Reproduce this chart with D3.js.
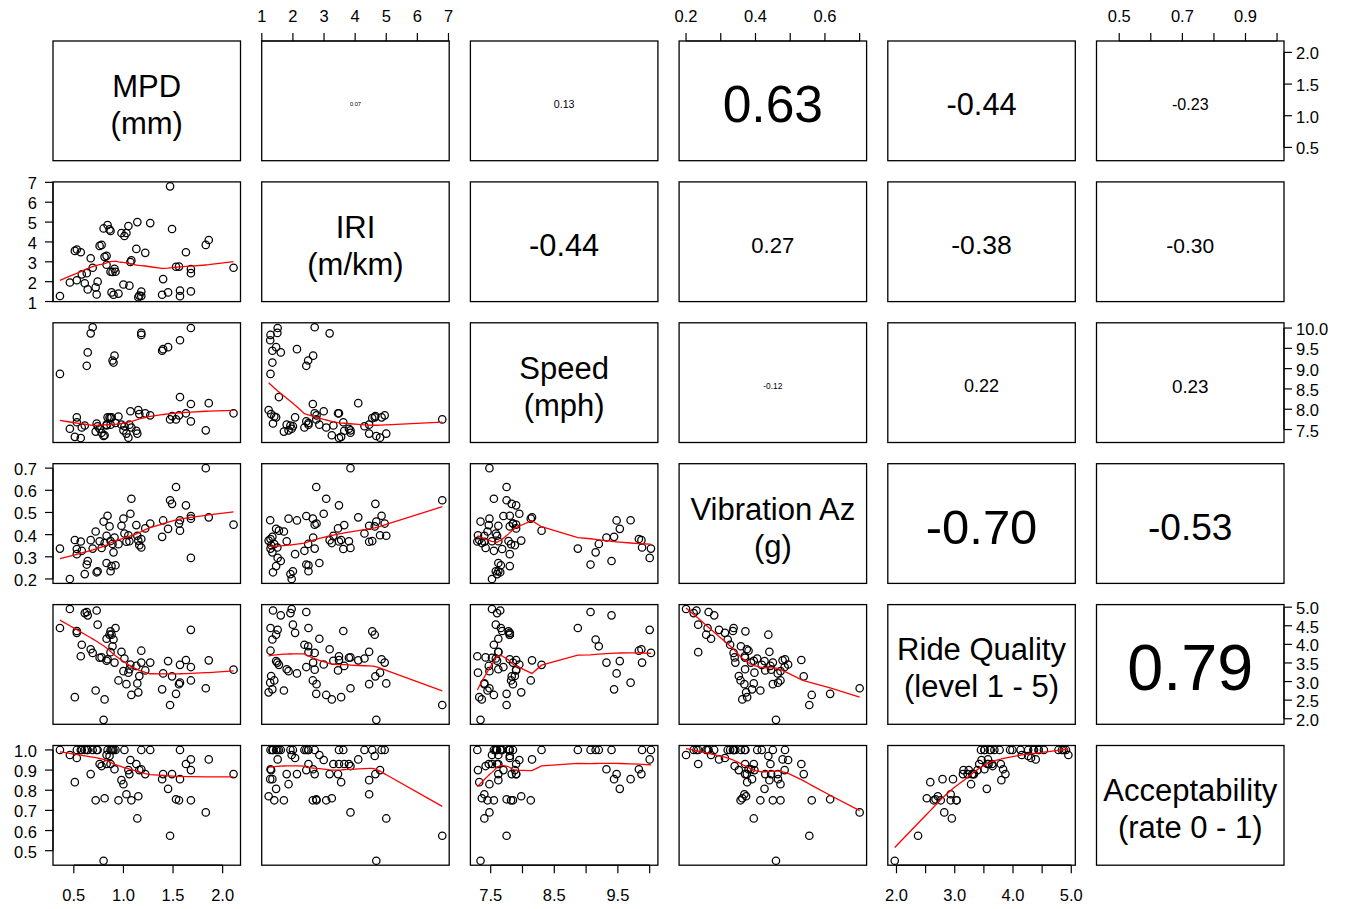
<!DOCTYPE html>
<html><head><meta charset="utf-8">
<script src="https://cdn.jsdelivr.net/npm/d3@7"></script>
<style>
body{margin:0;background:#fff}
text{font-family:"Liberation Sans",Arial,Helvetica,sans-serif;fill:#000}
</style>
</head><body>
<svg id="chart" width="1351" height="909"></svg>
<script>
// ---------- data (one entry per observation) ----------
const diagLine1 = ["MPD","IRI","Speed","Vibration Az","Ride Quality","Acceptability"];
const diagLine2 = ["(mm)","(m/km)","(mph)","(g)","(level 1 - 5)","(rate 0 - 1)"];

const mpd = [0.36,0.63,0.90,0.89,0.91,0.64,1.39,1.40,1.45,1.57,1.18,0.67,1.18,0.69,1.68,1.47,0.80,1.83,0.46,0.61,
  0.73,0.74,0.87,0.88,0.92,0.83,0.53,0.53,0.58,0.78,0.51,0.57,0.76,0.81,0.95,1.16,1.06,1.14,1.01,0.83,
  0.72,1.57,1.22,1.13,1.27,1.56,2.11,0.98,1.68,1.00,1.86,1.68,0.84,1.07,1.63,1.49,1.08,1.53,1.15,0.87,
  0.86,1.03,1.05];
const iri = [1.28,2.43,1.34,2.49,2.65,1.61,1.34,2.13,1.46,1.27,1.28,3.18,1.50,2.70,1.51,6.80,4.68,3.85,1.96,1.92,
  1.36,2.00,2.50,1.46,2.50,2.85,2.07,3.62,2.37,3.85,3.55,3.48,3.80,3.25,1.40,1.30,1.80,5.00,4.30,3.30,
  1.71,1.55,3.45,3.65,4.95,2.76,2.70,4.45,2.64,1.86,4.10,2.43,4.85,2.99,3.48,4.65,3.07,2.75,1.22,4.55,
  4.63,4.45,4.80];
const speed = [8.87,9.07,9.15,9.20,9.32,9.40,9.44,9.48,9.53,9.70,9.83,9.87,9.88,10.02,10.00,7.75,7.34,7.48,7.52,7.60,
  7.65,7.58,7.62,7.80,7.66,7.62,7.80,7.68,7.55,7.42,7.32,7.29,7.52,7.36,7.82,7.88,7.62,7.40,7.58,7.60,
  7.45,8.30,7.90,7.47,7.85,7.85,7.90,7.62,8.13,7.48,8.15,7.70,7.80,7.95,7.90,7.83,7.55,7.75,7.98,7.78,
  7.80,7.40,7.30];
const vib = [0.337,0.265,0.320,0.358,0.387,0.281,0.39,0.464,0.426,0.465,0.38,0.375,0.342,0.337,0.295,0.555,0.459,0.70,0.20,0.222,
  0.23,0.235,0.235,0.258,0.262,0.272,0.312,0.335,0.327,0.340,0.376,0.369,0.370,0.362,0.357,0.352,0.370,0.395,0.405,0.395,
  0.414,0.418,0.428,0.443,0.450,0.450,0.445,0.440,0.472,0.472,0.478,0.484,0.485,0.494,0.532,0.539,0.562,0.615,0.373,0.371,
  0.437,0.368,0.397];
const ride = [4.44,4.87,4.13,3.95,3.51,4.78,2.79,3.22,3.55,2.97,3.83,3.87,3.51,3.77,4.39,2.37,1.97,2.82,4.95,4.84,
  4.91,4.53,3.79,4.26,4.44,4.15,4.31,4.36,3.99,3.65,2.58,3.68,3.64,2.52,3.03,3.15,3.33,2.95,3.62,3.56,
  2.76,3.45,3.30,3.42,3.51,2.93,3.32,3.80,3.03,3.28,3.57,3.39,3.60,3.46,3.58,3.14,2.64,2.67,2.71,4.35,
  4.26,2.93,3.24];
const accept = [1.00,1.00,1.00,1.00,0.904,1.00,0.855,0.88,0.807,0.855,0.904,0.88,1.00,1.00,0.953,0.574,0.45,0.69,0.975,1.00,
  1.00,1.00,0.93,1.00,1.00,0.975,0.96,1.00,1.00,0.92,0.84,1.00,0.93,0.76,0.75,0.90,0.88,0.66,1.00,0.93,
  0.75,1.00,0.88,0.93,1.00,0.75,0.88,0.85,0.75,0.83,0.953,0.90,1.00,0.95,0.93,0.88,0.75,0.755,0.77,1.00,
  0.97,0.78,0.90];

// correlation labels shown in the upper panels (row i, columns i+1..6)
const corLabels = [
  ["0.07","0.13","0.63","-0.44","-0.23"],
  ["-0.44","0.27","-0.38","-0.30"],
  ["-0.12","0.22","0.23"],
  ["-0.70","-0.53"],
  ["0.79"]
];

// tick values and which of them carry labels (outer axes)
const mpdTicks = [0.5,1.0,1.5,2.0];
const iriTicks = [1,2,3,4,5,6,7];
const speedTicks = [7.5,8.0,8.5,9.0,9.5,10.0];
const speedTicksLabelledBottom = [7.5,8.5,9.5];
const vibTicks = [0.2,0.3,0.4,0.5,0.6,0.7];
const vibTicksLabelledTop = [0.2,0.4,0.6];
const rideTicks = [2.0,2.5,3.0,3.5,4.0,4.5,5.0];
const rideTicksLabelledBottom = [2.0,3.0,4.0,5.0];
const acceptTicks = [0.5,0.6,0.7,0.8,0.9,1.0];
const acceptTicksLabelledTop = [0.5,0.7,0.9];

// ---------- layout ----------
const columns = [mpd, iri, speed, vib, ride, accept];
const nv = columns.length;
const left0 = 53, top0 = 41, pw = 187.5, ph = 119.7, gap = 21.2;
const px = j => left0 + j * (pw + gap);
const py = i => top0 + i * (ph + gap);

const svg = d3.select("#chart");
svg.append("rect").attr("width",1351).attr("height",909).attr("fill","#fff");

function paddedDomain(a) {
  const [lo, hi] = d3.extent(a); const r = hi - lo;
  return [lo - 0.04 * r, hi + 0.04 * r];
}
const xScales = columns.map((c, j) => d3.scaleLinear().domain(paddedDomain(c)).range([px(j), px(j) + pw]));
const yScales = columns.map((c, i) => d3.scaleLinear().domain(paddedDomain(c)).range([py(i) + ph, py(i)]));

// ---------- R style lowess ----------
function lowess(xIn, yIn, f = 2/3, nsteps = 3) {
  const n = xIn.length;
  const order = d3.range(n).sort((a, b) => xIn[a] - xIn[b]);
  const x = order.map(i => xIn[i]), y = order.map(i => yIn[i]);
  const ys = new Float64Array(n), rw = new Float64Array(n).fill(1), res = new Float64Array(n), w = new Float64Array(n);
  const range = x[n-1] - x[0];
  const delta = 0.01 * range;
  const ns = Math.max(2, Math.min(n, Math.floor(f * n + 1e-7)));
  function lowest(xs, nleft, nright, userw) {
    const h = Math.max(xs - x[nleft], x[nright] - xs);
    const h9 = 0.999 * h, h1 = 0.001 * h;
    let a = 0, j = nleft;
    while (j < n) {
      w[j] = 0;
      const r = Math.abs(x[j] - xs);
      if (r <= h9) {
        w[j] = r <= h1 ? 1 : Math.pow(1 - Math.pow(r / h, 3), 3);
        if (userw) w[j] *= rw[j];
        a += w[j];
      } else if (x[j] > xs) break;
      j++;
    }
    const nrt = j - 1;
    if (a <= 0) return null;
    for (j = nleft; j <= nrt; j++) w[j] /= a;
    if (h > 0) {
      a = 0;
      for (j = nleft; j <= nrt; j++) a += w[j] * x[j];
      let b = xs - a, c = 0;
      for (j = nleft; j <= nrt; j++) c += w[j] * (x[j] - a) * (x[j] - a);
      if (Math.sqrt(c) > 0.001 * range) {
        b /= c;
        for (j = nleft; j <= nrt; j++) w[j] *= (b * (x[j] - a) + 1);
      }
    }
    let out = 0;
    for (j = nleft; j <= nrt; j++) out += w[j] * y[j];
    return out;
  }
  for (let iter = 1; iter <= nsteps + 1; iter++) {
    let nleft = 0, nright = ns - 1, last = -1, i = 0;
    for (;;) {
      if (nright < n - 1) {
        const d1 = x[i] - x[nleft], d2 = x[nright + 1] - x[i];
        if (d1 > d2) { nleft++; nright++; continue; }
      }
      const v = lowest(x[i], nleft, nright, iter > 1);
      ys[i] = v === null ? y[i] : v;
      if (last < i - 1) {
        const denom = x[i] - x[last];
        for (let j = last + 1; j < i; j++) {
          const alpha = (x[j] - x[last]) / denom;
          ys[j] = alpha * ys[i] + (1 - alpha) * ys[last];
        }
      }
      last = i;
      const cut = x[last] + delta;
      for (i = last + 1; i < n; i++) {
        if (x[i] > cut) break;
        if (x[i] === x[last]) { ys[i] = ys[last]; last = i; }
      }
      i = Math.max(last + 1, i - 1);
      if (last >= n - 1) break;
    }
    let sc = 0;
    for (let k = 0; k < n; k++) { res[k] = y[k] - ys[k]; sc += Math.abs(res[k]); }
    sc /= n;
    if (iter > nsteps) break;
    const ar = Array.from(res, Math.abs).sort((a, b) => a - b);
    const m1 = Math.floor(n / 2);
    const cmad = n % 2 === 0 ? 3 * (ar[m1] + ar[n - m1 - 1]) : 6 * ar[m1];
    if (cmad < 1e-7 * sc) break;
    const c9 = 0.999 * cmad, c1 = 0.001 * cmad;
    for (let k = 0; k < n; k++) {
      const r = Math.abs(res[k]);
      rw[k] = r <= c1 ? 1 : (r <= c9 ? Math.pow(1 - Math.pow(r / cmad, 2), 2) : 0);
    }
  }
  return x.map((xv, k) => [xv, ys[k]]);
}

// ---------- panels ----------
for (let i = 0; i < nv; i++) {
  for (let j = 0; j < nv; j++) {
    const g = svg.append("g");
    const x0 = px(j), y0 = py(i);
    if (i > j) {
      const xs = xScales[j], ysc = yScales[i];
      const xd = columns[j], yd = columns[i];
      g.selectAll("circle").data(d3.range(xd.length)).join("circle")
        .attr("cx", k => xs(xd[k])).attr("cy", k => ysc(yd[k])).attr("r", 3.7)
        .attr("fill", "none").attr("stroke", "#000").attr("stroke-width", 1.25);
      const sm = lowess(xd, yd);
      g.append("path").attr("d", d3.line().x(d => xs(d[0])).y(d => ysc(d[1]))(sm))
        .attr("fill", "none").attr("stroke", "#ff0000").attr("stroke-width", 1.3);
    } else if (i < j) {
      const lab = corLabels[i][j - i - 1];
      const r = Math.abs(parseFloat(lab));
      const t = g.append("text").attr("x", x0 + pw / 2).attr("y", y0 + ph / 2 + 3.5)
        .attr("text-anchor", "middle").attr("dominant-baseline", "central")
        .style("font-size", "100px").text(lab);
      const w100 = t.node().getComputedTextLength();
      const target = 0.85 * pw * r;
      t.style("font-size", (100 * target / w100) + "px");
    } else {
      const cx = x0 + pw / 2, cy = y0 + ph / 2;
      g.append("text").attr("x", cx).attr("y", cy - 4).attr("text-anchor", "middle")
        .style("font-size", "31px").text(diagLine1[i]);
      g.append("text").attr("x", cx).attr("y", cy + 33).attr("text-anchor", "middle")
        .style("font-size", "31px").text(diagLine2[i]);
    }
    g.append("rect").attr("x", x0).attr("y", y0).attr("width", pw).attr("height", ph)
      .attr("fill", "none").attr("stroke", "#000").attr("stroke-width", 1.3);
  }
}

// ---------- outer axes (R pairs alternating layout) ----------
const tickLen = 8, axisFont = "16.5px";
function fmt(v, ticks) {
  const dec = ticks.some(t => Math.round(t) !== t) ? 1 : 0;
  return v.toFixed(dec);
}
function axisH(scale, ticks, labelled, yLine, dir) {
  const g = svg.append("g");
  const pos = ticks.map(scale);
  g.append("line").attr("x1", d3.min(pos)).attr("x2", d3.max(pos)).attr("y1", yLine).attr("y2", yLine)
    .attr("stroke", "#000").attr("stroke-width", 1.2);
  g.selectAll("line.tk").data(ticks).join("line").attr("class", "tk")
    .attr("x1", d => scale(d)).attr("x2", d => scale(d)).attr("y1", yLine).attr("y2", yLine + dir * tickLen)
    .attr("stroke", "#000").attr("stroke-width", 1.2);
  g.selectAll("text").data(labelled).join("text")
    .attr("x", d => scale(d)).attr("y", dir < 0 ? yLine - 19 : yLine + 36)
    .attr("text-anchor", "middle").style("font-size", axisFont).text(d => fmt(d, ticks));
}
function axisV(scale, ticks, labelled, xLine, dir) {
  const g = svg.append("g");
  const pos = ticks.map(scale);
  g.append("line").attr("y1", d3.min(pos)).attr("y2", d3.max(pos)).attr("x1", xLine).attr("x2", xLine)
    .attr("stroke", "#000").attr("stroke-width", 1.2);
  g.selectAll("line.tk").data(ticks).join("line").attr("class", "tk")
    .attr("y1", d => scale(d)).attr("y2", d => scale(d)).attr("x1", xLine).attr("x2", xLine + dir * tickLen)
    .attr("stroke", "#000").attr("stroke-width", 1.2);
  g.selectAll("text").data(labelled).join("text")
    .attr("y", d => scale(d) + 1).attr("x", dir < 0 ? xLine - 16 : xLine + 12)
    .attr("dominant-baseline", "central")
    .attr("text-anchor", dir < 0 ? "end" : "start").style("font-size", axisFont).text(d => fmt(d, ticks));
}
const bottomY = py(nv - 1) + ph, rightX = px(nv - 1) + pw;
// top axes: columns 2,4,6
axisH(xScales[1], iriTicks, iriTicks, top0, -1);
axisH(xScales[3], vibTicks, vibTicksLabelledTop, top0, -1);
axisH(xScales[5], acceptTicks, acceptTicksLabelledTop, top0, -1);
// bottom axes: columns 1,3,5
axisH(xScales[0], mpdTicks, mpdTicks, bottomY, 1);
axisH(xScales[2], speedTicks, speedTicksLabelledBottom, bottomY, 1);
axisH(xScales[4], rideTicks, rideTicksLabelledBottom, bottomY, 1);
// left axes: rows 2,4,6
axisV(yScales[1], iriTicks, iriTicks, left0, -1);
axisV(yScales[3], vibTicks, vibTicks, left0, -1);
axisV(yScales[5], acceptTicks, acceptTicks, left0, -1);
// right axes: rows 1,3,5
axisV(yScales[0], mpdTicks, mpdTicks, rightX, 1);
axisV(yScales[2], speedTicks, speedTicks, rightX, 1);
axisV(yScales[4], rideTicks, rideTicks, rightX, 1);
</script>
</body></html>
